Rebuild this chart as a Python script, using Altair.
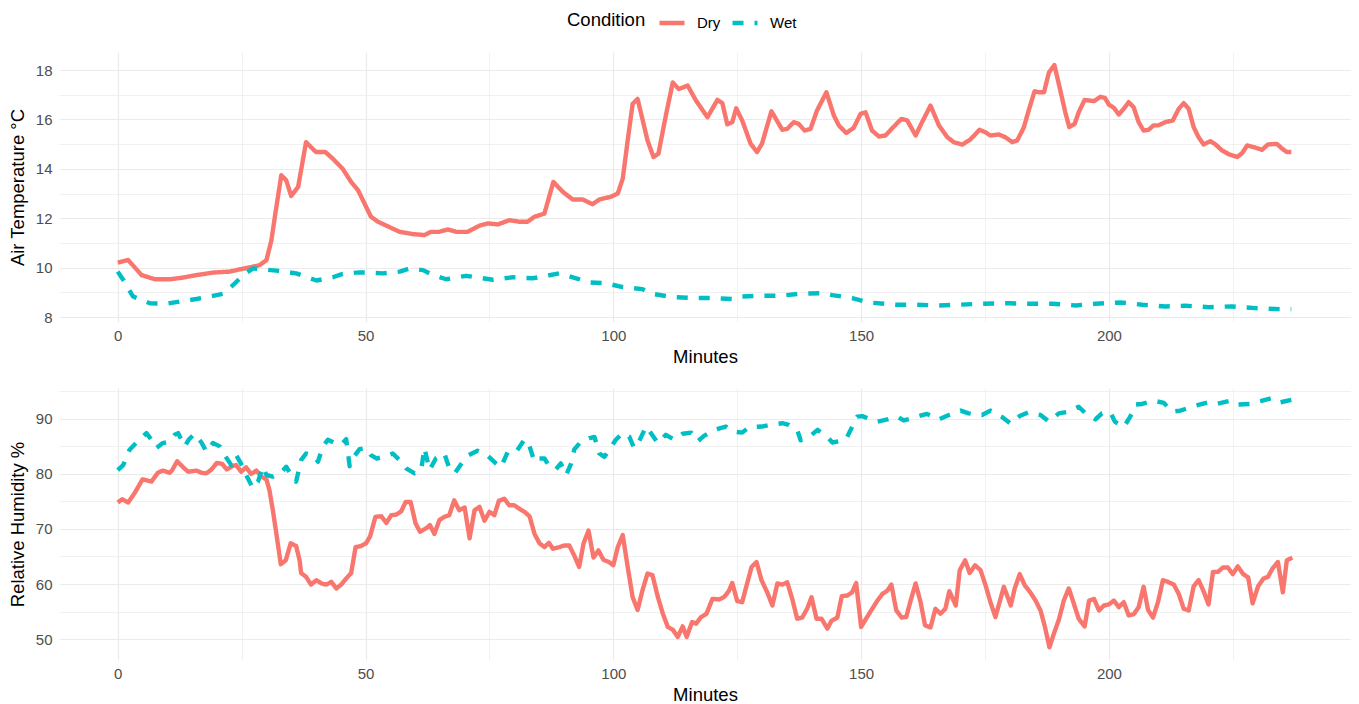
import altair as alt
import pandas as pd

# ---------------- data ----------------
dry_temp_min = [0, 2.1, 4.8, 7.5, 10.5, 13.2, 15.9, 19.2, 22.6, 24.6, 27.3, 28.6, 30, 31, 31.7, 33, 34, 35, 36.4, 38,
                40, 41.9, 43.4, 45.4, 47.1, 48.5, 51.1, 52.5, 54.2, 56.9, 59.5, 61.9, 63.2, 64.9, 66.6, 68.3, 70.6, 73,
                74.7, 76.7, 79, 81, 82.7, 84.1, 86.1, 87.9, 89.8, 91.8, 93.8, 95.8, 97.2, 99.5, 100.9, 101.9, 102.9,
                103.9, 104.9, 106.9, 108.1, 109.1, 110.6, 112, 113.2, 115, 116.7, 119, 121, 122, 123, 124, 124.8, 126,
                127.7, 129, 130, 131.9, 134.1, 135.1, 136.4, 137.4, 138.6, 139.8, 141.1, 143, 144.5, 145.5, 147, 148.5,
                149.9, 150.9, 152.2, 153.6, 154.9, 156.6, 158.1, 159.3, 161, 162.3, 164, 165.7, 167.4, 168.7, 170.4,
                172, 173.9, 175, 176.1, 177.8, 179.1, 180.5, 181.5, 182.8, 184, 185, 185.9, 186.9, 187.9, 189, 190.2,
                191.2, 192, 193.1, 193.9, 195.1, 197, 198.3, 199.2, 200, 201, 202, 203, 204, 205, 206, 207, 208, 209,
                210, 211.4, 212.9, 214.1, 215.1, 216.1, 217.1, 218.1, 219.1, 220.5, 221.5, 222.8, 224.2, 225.9, 226.9,
                227.9, 229.2, 230.9, 232.1, 233.9, 235, 235.9, 236.8]
dry_temp = [10.2, 10.31, 9.7, 9.53, 9.53, 9.6, 9.7, 9.8, 9.84, 9.93, 10.04, 10.1, 10.3, 11.1, 12.05, 13.74, 13.54, 12.9,
            13.27, 15.08, 14.68, 14.68, 14.41, 14.0, 13.47, 13.13, 12.06, 11.86, 11.7, 11.45, 11.36, 11.32, 11.45,
            11.45, 11.55, 11.45, 11.45, 11.7, 11.79, 11.75, 11.92, 11.86, 11.86, 12.06, 12.19, 13.47, 13.07, 12.76,
            12.76, 12.57, 12.76, 12.87, 13.0, 13.6, 15.15, 16.63, 16.83, 15.15, 14.48, 14.61, 16.16, 17.5, 17.23,
            17.37, 16.76, 16.09, 16.79, 16.66, 15.8, 15.89, 16.45, 15.96, 15.02, 14.68, 15.02, 16.33, 15.58, 15.62,
            15.89, 15.82, 15.55, 15.62, 16.36, 17.1, 16.16, 15.76, 15.45, 15.66, 16.23, 16.29, 15.55, 15.31, 15.35,
            15.71, 16.02, 15.96, 15.35, 15.89, 16.56, 15.76, 15.28, 15.08, 14.98, 15.18, 15.58, 15.49, 15.35, 15.39,
            15.28, 15.08, 15.15, 15.66, 16.49, 17.14, 17.1, 17.1, 17.9, 18.2, 17.17, 16.29, 15.69, 15.82, 16.29,
            16.79, 16.74, 16.92, 16.87, 16.6, 16.47, 16.2, 16.43, 16.7, 16.49, 15.89, 15.55, 15.58, 15.76, 15.76,
            15.89, 15.96, 16.43, 16.66, 16.43, 15.69, 15.28, 14.99, 15.12, 14.99, 14.75, 14.59, 14.48, 14.64, 14.95,
            14.88, 14.77, 14.99, 15.01, 14.81, 14.68, 14.68]

wet_temp_min = [0, 1.1, 3.1, 6.5, 9.8, 12.5, 15.9, 19.2, 21.2, 23.3, 25.3, 27.3, 29.3, 32, 36, 37.4, 40.1, 43.4, 45.4,
                48.8, 53.5, 56.9, 58.9, 61.6, 63.6, 66.3, 70.3, 72.3, 75.7, 79.7, 83.7, 85.8, 89.1, 92.5, 95.2, 98.5,
                101.9, 105.9, 107.9, 112, 116, 120, 124, 126, 129.4, 133.4, 137.4, 142.1, 144.2, 148.2, 151.5, 156.9,
                160.9, 165.7, 169.7, 174.4, 179.8, 183.2, 188.6, 193.3, 197.3, 202.3, 206.7, 211.4, 215.4, 220.1,
                224.8, 229.5, 234.6, 236.8]
wet_temp = [9.84, 9.51, 8.83, 8.56, 8.54, 8.63, 8.73, 8.86, 8.94, 9.3, 9.7, 9.97, 9.93, 9.88, 9.77, 9.67, 9.48, 9.61,
            9.75, 9.81, 9.77, 9.84, 9.97, 9.9, 9.7, 9.53, 9.67, 9.61, 9.51, 9.61, 9.57, 9.64, 9.77, 9.57, 9.4, 9.37,
            9.21, 9.13, 8.94, 8.81, 8.77, 8.77, 8.73, 8.83, 8.86, 8.86, 8.94, 8.97, 8.89, 8.77, 8.59, 8.5, 8.5, 8.47,
            8.5, 8.54, 8.56, 8.54, 8.54, 8.47, 8.54, 8.59, 8.5, 8.43, 8.46, 8.4, 8.43, 8.36, 8.32, 8.32]

dry_rh_min = [0, 0.9, 2.1, 3.4, 5, 6.8, 8.1, 9.1, 10.5, 11, 12, 13.2, 14.2, 15.9, 16.9, 17.9, 18.9, 20, 21.1, 22, 23.1,
              23.9, 24.9, 25.9, 26.9, 28, 29, 30, 30.6, 31.3, 32, 32.9, 33.9, 34.9, 36, 36.7, 37, 38, 39, 40.1, 41.1,
              42.1, 43.1, 44.1, 45.1, 46.1, 47.1, 48, 49.1, 50.1, 50.9, 52, 53.2, 54.2, 55.2, 56.2, 57.2, 58.1, 59.1,
              60.1, 61, 62.2, 63, 63.9, 64.9, 65.9, 66.9, 67.9, 68.9, 70, 71, 72, 73, 74, 75, 76, 76.9, 78, 79, 80,
              81, 82.1, 83.1, 84.1, 85.1, 86.1, 87, 87.8, 89.1, 90.1, 91.1, 92.1, 93.1, 94, 95, 96, 97, 98, 99.1,
              100, 100.9, 101.9, 102.9, 103.9, 104.9, 105.9, 106.9, 107.9, 109, 110, 111, 112, 113, 114, 114.8,
              115.9, 116.7, 117.7, 118.8, 120, 121.3, 122.3, 123.3, 124, 125, 126, 127, 127.9, 128.9, 129.9, 131.1,
              132.1, 133.1, 134.1, 135.1, 136.1, 137.1, 138.1, 139.1, 140, 141, 142, 143.2, 144, 145.2, 146.1,
              147.2, 148.2, 149, 150, 151, 152.1, 153.3, 154.3, 155.3, 156.1, 157.1, 158.2, 159.1, 160, 161, 162,
              162.9, 164, 165, 166, 167, 167.8, 169.1, 169.9, 171, 171.9, 173, 174.1, 175.1, 176.1, 177.1, 178.8,
              180.2, 181, 182, 183, 184.2, 185.2, 186.2, 187.1, 188, 188.9, 189.9, 190.9, 191.9, 192.9, 193.9,
              195.1, 196, 197, 198, 199, 200, 201, 202, 203, 204, 205, 206, 207, 207.9, 208.9, 209.9, 210.9, 211.9,
              213.1, 214.1, 215.1, 216.1, 217.1, 218.1, 219.1, 220.1, 221, 222, 223, 224, 225, 226, 227.1, 228.1,
              229, 230.1, 231.2, 232.1, 233, 234.1, 235.1, 235.9, 237]
dry_rh = [74.8, 75.4, 74.8, 76.5, 79.0, 78.6, 80.2, 80.6, 80.2, 80.7, 82.3, 81.2, 80.4, 80.6, 80.2, 80.1, 80.8, 82.0,
          81.8, 80.8, 81.4, 81.6, 80.4, 81.2, 80.0, 80.6, 79.5, 79.0, 77.1, 73.4, 69.2, 63.6, 64.3, 67.4, 66.9, 64.3,
          62.0, 61.3, 59.9, 60.7, 60.1, 59.9, 60.4, 59.2, 59.9, 61.0, 62.0, 66.7, 66.9, 67.4, 68.6, 72.2, 72.3, 71.1,
          72.5, 72.6, 73.2, 74.9, 74.9, 71.0, 69.5, 70.1, 70.7, 69.1, 71.6, 72.2, 72.5, 75.2, 73.4, 73.9, 68.3, 73.4,
          74.0, 71.5, 73.1, 72.5, 75.1, 75.5, 74.3, 74.3, 73.7, 73.1, 72.3, 69.1, 67.4, 66.7, 67.5, 66.4, 66.7, 67.0,
          67.0, 65.2, 63.1, 67.4, 69.7, 64.8, 66.1, 64.4, 64.0, 63.4, 66.7, 68.9, 63.1, 57.6, 55.3, 58.9, 61.9, 61.6,
          57.6, 54.6, 52.2, 51.7, 50.4, 52.3, 50.4, 53.1, 52.8, 54.0, 54.6, 57.3, 57.2, 57.6, 58.7, 60.2, 56.9, 56.7,
          60.1, 63.1, 64.0, 60.7, 58.4, 56.1, 60.1, 59.9, 60.3, 57.3, 53.7, 53.9, 55.5, 57.6, 53.7, 53.7, 51.9, 53.3,
          53.9, 57.8, 57.9, 58.5, 60.2, 52.2, 53.7, 55.3, 57.0, 58.2, 58.8, 59.9, 55.2, 53.9, 54.0, 57.0, 60.1, 56.7,
          52.5, 52.1, 55.5, 54.6, 55.5, 58.7, 56.1, 62.5, 64.3, 62.0, 63.4, 62.5, 59.8, 56.7, 54.0, 59.5, 56.1, 59.2,
          61.8, 59.8, 58.4, 57.0, 55.2, 52.2, 48.5, 51.0, 53.5, 57.0, 59.2, 56.5, 53.7, 52.3, 57.0, 57.3, 55.2, 56.1,
          56.3, 57.0, 55.8, 56.7, 54.3, 54.5, 55.8, 59.5, 55.3, 53.9, 56.7, 60.7, 60.4, 59.9, 58.2, 55.5, 55.2, 59.6,
          60.7, 58.7, 56.3, 62.2, 62.2, 63.0, 63.0, 61.8, 63.2, 61.8, 61.2, 56.5, 59.6, 61.0, 61.3, 62.8, 64.0, 58.5,
          64.3, 64.8]

wet_rh_min = [0, 1.1, 2.4, 3.8, 5.8, 6.8, 7.8, 9.1, 10.5, 11.5, 12.2, 13.5, 14.4, 15.5, 16.9, 17.9, 19.2, 20.6, 21.6,
              22.9, 23.9, 25.3, 25.9, 27.3, 28.3, 29.3, 30, 31.3, 32.7, 34, 35, 36, 37, 38, 39.4, 40.4, 41.4, 42.4,
              43.8, 45.1, 46.1, 46.8, 47.8, 48.8, 50.1, 51.1, 52.2, 53.8, 55.5, 57.2, 58.2, 59.9, 61.2, 61.9, 62.9,
              64.2, 65.9, 66.8, 68, 69.6, 70.6, 72.6, 74.3, 76.3, 77.3, 78.7, 80.4, 82.1, 83.1, 84.1, 85.1, 86.1,
              87.1, 88.4, 89.4, 90.5, 91.5, 92.1, 93.5, 95.2, 96.2, 97.2, 98.2, 99.2, 100.5, 101.9, 103.2, 104.2,
              105.2, 106.6, 107.6, 109, 110.6, 112.3, 114, 115.7, 117, 118.3, 120.3, 122.7, 124, 126, 127.4, 130,
              131.7, 134.1, 135.4, 137.1, 137.8, 139.5, 141.2, 143.2, 144.2, 146.9, 147.9, 149.2, 150.2, 153.3,
              155.3, 157.3, 158.6, 161.3, 163.3, 165.7, 167.7, 170.1, 171.7, 174.4, 176.1, 178.5, 180.2, 182, 183.8,
              186.2, 187.9, 189.9, 191.9, 193.9, 195.4, 197.3, 198.6, 200.3, 201.2, 203, 204.3, 205.4, 206.7, 209,
              211.1, 212.7, 214.4, 217.5, 220.1, 221.8, 224.5, 225.9, 228.5, 230.6, 232.9, 234.6, 237]
wet_rh = [80.7, 81.6, 84.4, 85.7, 87.4, 86.2, 84.7, 85.6, 85.9, 87.1, 87.4, 85.0, 86.3, 87.3, 85.7, 84.0, 85.6, 85.0,
          83.4, 81.6, 83.4, 81.2, 79.8, 77.4, 78.6, 81.3, 79.8, 79.5, 80.0, 81.3, 79.8, 78.6, 82.5, 83.7, 83.4, 82.2,
          85.0, 86.2, 85.6, 85.3, 86.3, 81.4, 83.3, 84.5, 84.7, 83.4, 82.8, 83.1, 83.7, 82.2, 81.0, 80.1, 80.6, 84.7,
          80.7, 82.8, 83.7, 81.3, 80.1, 82.2, 83.3, 84.2, 83.6, 81.9, 81.2, 84.0, 84.0, 86.3, 85.0, 82.2, 82.8, 82.8,
          81.3, 80.8, 81.9, 79.8, 81.9, 84.4, 85.9, 86.5, 86.7, 83.7, 83.1, 84.4, 86.2, 87.4, 86.8, 84.7, 85.9, 88.6,
          87.4, 85.6, 87.1, 86.2, 87.3, 87.5, 85.9, 86.9, 88.0, 88.6, 87.7, 87.5, 88.5, 88.6, 88.9, 89.2, 88.9, 88.0,
          86.1, 86.7, 88.0, 86.7, 85.7, 86.2, 88.0, 90.4, 90.5, 89.5, 89.9, 90.4, 89.7, 90.4, 90.9, 89.9, 90.7, 91.5,
          91.0, 90.7, 91.5, 90.3, 89.1, 90.5, 91.2, 90.7, 89.5, 91.0, 91.3, 92.2, 90.9, 89.9, 91.0, 91.2, 89.5, 88.5,
          90.4, 92.6, 92.7, 93.3, 92.9, 91.3, 91.5, 92.4, 93.0, 92.7, 93.3, 92.6, 92.7, 93.2, 93.8, 93.0, 93.5]

conditions = ["Dry", "Wet"]
colors = ["#F8766D", "#00BFC4"]
dashes = [[1, 0], [11, 11]]


def frame(mins, vals, cond, col):
    return pd.DataFrame({"Minutes": mins, col: vals, "Condition": cond})


temp_df = pd.concat([frame(dry_temp_min, dry_temp, "Dry", "Temp"),
                     frame(wet_temp_min, wet_temp, "Wet", "Temp")], ignore_index=True)
rh_df = pd.concat([frame(dry_rh_min, dry_rh, "Dry", "RH"),
                   frame(wet_rh_min, wet_rh, "Wet", "RH")], ignore_index=True)

FONT = "Liberation Sans"
GRID = "#EBEBEB"

legend = alt.Legend(
    title="Condition", orient="none", direction="horizontal", titleOrient="left",
    legendX=508, legendY=-44, padding=0,
    titleFontSize=18.5, titleFontWeight="normal", titleColor="#000000", titleFont=FONT,
    titlePadding=11, labelFontSize=15, labelColor="#000000", labelFont=FONT,
    labelOffset=10, columnPadding=2, symbolType="stroke", symbolSize=625,
    symbolStrokeWidth=4.5,
)

color = alt.Color("Condition:N", scale=alt.Scale(domain=conditions, range=colors), legend=legend)
dash = alt.StrokeDash("Condition:N", scale=alt.Scale(domain=conditions, range=dashes), legend=legend)


def axis_common(title, values, major_test, label_padding, title_padding):
    return alt.Axis(
        title=title, values=values,
        labelExpr=f"({major_test}) ? datum.label : ''",
        grid=True, gridColor=GRID,
        gridWidth={"condition": {"test": major_test, "value": 1.2}, "value": 0.7},
        ticks=False, domain=False,
        labelFont=FONT, labelFontSize=15, labelColor="#4D4D4D", labelPadding=label_padding,
        titleFont=FONT, titleFontSize=18.5, titleFontWeight="normal", titleColor="#000000",
        titlePadding=title_padding,
    )


x_enc = alt.X("Minutes:Q",
              scale=alt.Scale(domain=[-11.85, 248.85], nice=False, zero=False),
              axis=axis_common("Minutes", list(range(0, 226, 25)), "datum.value % 50 == 0", 6, 4))

line_kw = dict(strokeWidth=4.4, strokeCap="butt", strokeJoin="round")

top = alt.Chart(temp_df).mark_line(**line_kw).encode(
    x=x_enc,
    y=alt.Y("Temp:Q", scale=alt.Scale(domain=[7.8, 18.73], nice=False, zero=False),
            axis=axis_common("Air Temperature °C", list(range(8, 19)), "datum.value % 2 == 0", 7, 8)),
    color=color, strokeDash=dash,
).properties(width=1292, height=270)

bottom = alt.Chart(rh_df).mark_line(**line_kw).encode(
    x=x_enc,
    y=alt.Y("RH:Q", scale=alt.Scale(domain=[46.2, 95.6], nice=False, zero=False),
            axis=axis_common("Relative Humidity %", list(range(50, 96, 5)), "datum.value % 10 == 0", 7, 8)),
    color=color, strokeDash=dash,
).properties(width=1292, height=272)

chart = alt.vconcat(top, bottom, spacing=22).properties(
    padding={"left": 0, "top": 0, "right": 0, "bottom": 0},
    background="#FFFFFF",
).configure_view(stroke=None)

chart.save("out.html", embed_options={"renderer": "svg", "actions": False})
